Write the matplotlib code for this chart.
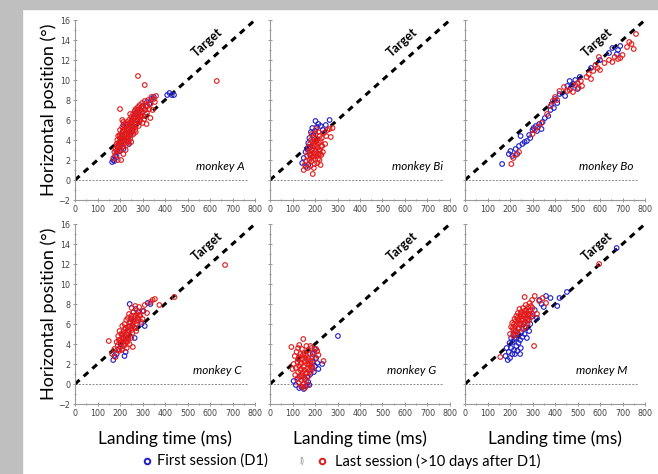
import matplotlib
matplotlib.use("Agg")
import matplotlib.pyplot as plt
from matplotlib.ticker import MultipleLocator
from matplotlib.patches import Rectangle

# monkey A
a_red_x = [170, 175, 180, 182, 185, 188, 190, 192, 195, 197, 200, 200, 202, 205, 207, 210, 210, 212, 215, 215,
           218, 220, 220, 222, 225, 225, 228, 230, 230, 232, 235, 235, 238, 240, 240, 242, 245, 245, 248, 250,
           250, 252, 255, 255, 258, 260, 260, 262, 265, 265, 268, 270, 270, 272, 275, 278, 280, 280, 283, 285,
           288, 290, 292, 295, 298, 300, 305, 308, 310, 315, 320, 325, 330, 335, 340, 345, 350, 355, 360, 318,
           335, 200, 210, 215, 280, 310, 630, 190, 205, 225, 250, 245, 270, 300,
           205, 212, 218, 222, 228, 233, 237, 243, 247, 252, 257, 263, 267, 273, 277, 282, 287, 293, 297, 303,
           313, 323, 183, 187, 193, 198, 203, 208]
a_red_y = [2.2, 2.8, 3.1, 2.5, 3.6, 4.0, 3.2, 4.4, 2.9, 3.8, 4.2, 5.0, 3.5, 4.6, 3.9, 4.1, 5.3, 3.3, 4.8, 2.6,
           4.3, 5.1, 3.7, 4.5, 3.9, 5.6, 4.2, 4.9, 3.5, 5.8, 4.4, 5.2, 3.8, 4.7, 6.0, 5.3, 4.1, 5.7, 4.9, 5.4,
           6.3, 4.5, 5.9, 5.0, 6.6, 5.2, 4.6, 6.1, 5.6, 6.9, 5.0, 6.3, 7.1, 5.5, 6.6, 5.9, 7.3, 6.2, 5.4, 6.8,
           7.5, 6.0, 7.0, 6.5, 7.7, 6.8, 7.2, 6.1, 7.9, 7.4, 6.7, 8.0, 7.1, 7.6, 8.3, 7.0, 8.1, 7.8, 8.4, 5.6,
           6.2, 7.1, 6.0, 5.8, 10.4, 9.5, 9.9, 2.0, 2.0, 3.0, 3.8, 6.6, 4.8, 5.7,
           3.0, 4.9, 3.6, 5.4, 4.6, 3.9, 5.0, 4.4, 5.4, 6.0, 4.9, 5.3, 6.4, 6.0, 7.0, 6.5, 5.8, 6.3, 7.3, 6.4,
           7.0, 7.4, 2.9, 3.4, 3.7, 4.5, 4.0, 4.5]
a_blue_x = [165, 170, 175, 178, 185, 190, 195, 200, 205, 210, 215, 220, 225, 230, 235, 240, 245, 250, 255, 260,
            265, 270, 275, 280, 290, 300, 310, 320, 330, 340, 350, 410, 420, 440, 430, 215, 240]
a_blue_y = [1.8, 2.0, 1.9, 2.4, 2.3, 2.8, 3.4, 2.9, 3.7, 4.4, 3.1, 4.0, 4.7, 5.5, 4.2, 5.0, 4.6, 5.8, 5.3, 6.2,
            5.7, 6.7, 6.0, 7.0, 6.4, 7.4, 7.0, 7.8, 7.6, 8.1, 8.3, 8.5, 8.7, 8.5, 8.5, 5.5, 3.6]

# monkey Bi
bi_red_x = [150, 155, 160, 165, 168, 170, 172, 175, 178, 180, 180, 182, 185, 185, 188, 190, 190, 192, 195, 195,
            198, 200, 200, 202, 205, 205, 208, 210, 210, 212, 215, 215, 218, 220, 220, 222, 225, 225, 228, 230,
            232, 235, 240, 245, 250, 255, 265, 278, 270, 195, 185, 205,
            188, 193, 197, 203, 207, 213, 217, 223, 227, 183, 178]
bi_red_y = [1.0, 1.5, 1.9, 2.4, 1.2, 2.8, 3.3, 2.0, 3.6, 1.4, 2.6, 4.0, 3.0, 1.9, 2.3, 3.8, 0.6, 4.3, 2.7, 3.4,
            1.6, 2.1, 3.9, 4.6, 2.9, 3.5, 2.4, 4.1, 1.7, 3.2, 2.6, 4.8, 3.7, 2.0, 4.4, 3.0, 1.5, 3.9, 2.5, 4.2,
            3.4, 2.8, 4.7, 3.6, 4.4, 5.0, 5.1, 5.2, 4.3, 1.2, 4.6, 5.1,
            3.1, 2.4, 3.7, 2.6, 3.9, 2.1, 3.0, 2.6, 3.4, 2.2, 2.9]
bi_blue_x = [143, 150, 158, 165, 170, 175, 178, 182, 188, 192, 202, 208, 215, 225, 235, 248, 265, 170, 160, 180, 200]
bi_blue_y = [1.7, 2.2, 2.8, 3.1, 3.7, 4.2, 2.5, 4.8, 5.2, 4.5, 5.9, 5.3, 5.6, 5.4, 5.0, 5.5, 6.0, 1.5, 1.3, 3.3, 4.9]

# monkey Bo
bo_red_x = [206, 215, 225, 240, 300, 310, 325, 340, 365, 380, 390, 400, 410, 420, 440, 455, 465, 480, 490, 500,
            505, 515, 520, 540, 550, 560, 570, 580, 590, 600, 620, 640, 655, 665, 680, 700, 720, 730, 740, 750,
            760, 595, 690]
bo_red_y = [1.6, 2.2, 2.5, 2.8, 4.6, 5.0, 5.3, 5.7, 6.6, 7.4, 7.9, 8.3, 8.0, 8.9, 9.3, 8.9, 9.0, 8.8, 9.5, 9.7,
            9.2, 9.9, 9.4, 10.3, 10.6, 10.1, 10.9, 11.5, 11.2, 11.0, 11.7, 12.0, 11.8, 12.3, 12.1, 12.5, 13.3, 13.8,
            13.6, 13.1, 14.6, 12.3, 12.2]
bo_blue_x = [165, 195, 202, 210, 225, 232, 240, 247, 255, 265, 275, 285, 290, 300, 305, 315, 320, 330, 340, 345,
             355, 370, 380, 385, 395, 400, 410, 420, 445, 455, 465, 470, 480, 490, 500, 510, 560, 600, 640, 655,
             680, 690, 675]
bo_blue_y = [1.6, 2.6, 2.9, 2.4, 3.1, 2.6, 3.4, 4.4, 3.6, 3.8, 3.9, 4.5, 4.2, 5.0, 5.2, 5.4, 4.9, 5.6, 5.1, 5.8,
             6.2, 6.4, 7.0, 7.6, 7.2, 8.1, 7.7, 8.6, 8.4, 9.4, 9.9, 9.2, 9.6, 10.0, 9.1, 10.3, 11.2, 12.0, 12.7,
             13.2, 13.0, 13.4, 12.6]

# monkey C
c_red_x = [165, 175, 180, 185, 190, 192, 195, 198, 200, 202, 205, 208, 210, 210, 212, 215, 218, 220, 220, 222,
           225, 225, 228, 230, 230, 232, 235, 235, 238, 240, 240, 242, 245, 248, 250, 250, 252, 255, 258, 260,
           262, 265, 268, 270, 272, 275, 280, 285, 290, 295, 300, 310, 320, 335, 345, 355, 375, 442, 667, 257,
           150, 285, 300,
           205, 213, 217, 223, 227, 233, 237, 243, 247, 253, 257, 263, 267, 273, 278, 283, 195, 188, 208]
c_red_y = [3.0, 3.5, 2.7, 4.2, 3.9, 4.8, 3.3, 5.3, 4.4, 3.7, 5.0, 4.1, 5.8, 4.6, 3.5, 5.2, 4.3, 6.0, 4.9, 3.9,
           5.5, 4.5, 6.4, 5.0, 3.6, 4.2, 5.7, 6.6, 4.7, 5.3, 7.0, 4.0, 6.1, 5.6, 4.6, 6.8, 7.6, 5.1, 6.3, 7.2,
           5.7, 6.5, 7.8, 6.0, 5.3, 7.0, 6.4, 7.7, 6.8, 6.2, 7.3, 7.9, 7.1, 8.2, 8.4, 8.5, 7.9, 8.7, 11.9, 3.7,
           4.3, 6.9, 6.5,
           4.5, 5.0, 4.0, 5.6, 4.2, 5.2, 4.5, 5.8, 6.5, 5.4, 6.0, 6.8, 5.6, 6.3, 6.6, 7.2, 4.4, 3.4, 3.4]
c_blue_x = [170, 175, 185, 195, 205, 215, 225, 235, 243, 245, 250, 255, 260, 265, 270, 280, 295, 305, 310, 323,
            335, 220]
c_blue_y = [2.4, 2.8, 3.0, 3.5, 4.0, 4.6, 3.2, 5.4, 8.0, 6.2, 6.5, 5.8, 7.2, 4.6, 7.5, 7.2, 6.0, 7.3, 5.8, 8.1,
            8.0, 2.8]

# monkey G
g_red_x = [95, 100, 105, 110, 112, 115, 118, 120, 122, 125, 125, 128, 130, 130, 132, 135, 135, 138, 140, 140,
           142, 145, 145, 148, 150, 150, 152, 155, 155, 158, 160, 160, 162, 165, 165, 168, 170, 170, 172, 175,
           178, 180, 180, 185, 188, 190, 195, 200, 205, 210, 215, 238, 130, 180, 145,
           135, 140, 143, 147, 152, 157, 163, 167, 173, 177, 183, 187, 153, 137, 127]
g_red_y = [3.7, 1.5, 2.0, 2.8, 0.9, 1.6, 3.2, 0.5, 2.2, 1.2, 3.6, 0.1, 1.8, 2.7, 0.7, 1.4, 3.0, -0.2, 2.1, 0.4,
           3.5, 1.1, 2.5, 4.5, 0.0, 1.7, 3.1, -0.4, 2.3, 1.0, 2.9, 0.3, 3.8, 1.5, 2.0, -0.1, 2.6, 3.4, 0.8, 1.9,
           3.0, 2.3, 1.2, 3.6, 2.7, 1.5, 3.2, 2.5, 3.5, 3.3, 2.9, 2.3, 3.9, 3.8, -0.3,
           2.0, 1.5, 0.8, 2.9, 1.4, 2.6, 1.1, 2.4, 2.0, 1.4, 2.0, 1.8, 0.5, 0.9, 2.5]
g_blue_x = [105, 115, 125, 130, 140, 150, 155, 160, 165, 170, 175, 180, 185, 190, 195, 200, 205, 210, 215, 232,
            302, 190, 200]
g_blue_y = [0.3, -0.1, 0.6, -0.4, -0.3, -0.5, 0.5, -0.2, 0.7, 0.2, -0.1, 1.0, 1.6, 2.2, 1.2, 1.8, 2.6, 2.1, 1.5, 2.0,
            4.8, 3.0, 3.5]

# monkey M
m_red_x = [157, 200, 205, 210, 215, 220, 222, 225, 228, 230, 232, 235, 238, 240, 242, 245, 248, 250, 252, 255,
           258, 260, 262, 265, 268, 270, 272, 275, 278, 280, 282, 285, 288, 290, 295, 298, 300, 310, 320, 330,
           345, 360, 307, 596, 215, 265, 300,
           218, 226, 233, 236, 243, 247, 253, 256, 263, 267, 273, 276, 283, 287, 293, 213, 224]
m_red_y = [2.7, 5.0, 5.7, 6.1, 5.4, 6.5, 5.8, 4.9, 6.8, 6.0, 5.2, 7.1, 6.4, 5.6, 7.5, 6.7, 5.9, 7.2, 6.3, 5.5,
           7.6, 6.8, 6.1, 7.3, 5.7, 7.9, 6.6, 7.1, 6.0, 7.7, 6.9, 6.4, 8.1, 7.4, 6.7, 8.4, 7.6, 8.8, 7.0, 8.3,
           8.6, 8.1, 3.8, 12.0, 4.8, 8.7, 7.0,
           6.0, 6.3, 6.6, 5.5, 6.1, 7.0, 6.9, 6.5, 7.0, 6.2, 7.4, 6.4, 7.3, 7.0, 7.8, 5.6, 5.3]
m_blue_x = [180, 185, 190, 195, 198, 200, 205, 205, 210, 212, 215, 218, 220, 222, 225, 228, 230, 232, 235, 238,
            240, 245, 248, 250, 255, 260, 265, 270, 275, 280, 290, 300, 310, 320, 330, 340, 350, 360, 380, 410,
            420, 453, 674, 285, 245]
m_blue_y = [2.8, 3.6, 2.4, 3.2, 4.1, 2.6, 3.6, 4.6, 3.0, 4.2, 5.0, 3.4, 4.5, 3.0, 5.3, 3.8, 4.6, 3.3, 5.0, 4.1,
            5.6, 4.4, 3.6, 5.2, 4.7, 6.0, 5.0, 5.6, 4.6, 6.5, 6.0, 6.8, 7.4, 6.6, 8.4, 8.0, 7.7, 8.8, 8.6, 7.8,
            8.6, 9.2, 13.6, 5.3, 3.0]

panels = [
    ("monkey A", a_blue_x, a_blue_y, a_red_x, a_red_y),
    ("monkey Bi", bi_blue_x, bi_blue_y, bi_red_x, bi_red_y),
    ("monkey Bo", bo_blue_x, bo_blue_y, bo_red_x, bo_red_y),
    ("monkey C", c_blue_x, c_blue_y, c_red_x, c_red_y),
    ("monkey G", g_blue_x, g_blue_y, g_red_x, g_red_y),
    ("monkey M", m_blue_x, m_blue_y, m_red_x, m_red_y),
]
name_x = [645, 658, 627, 631, 630, 609]

blue = "#1f1fc8"
red = "#e31a1a"
W, H = 658, 474

fig = plt.figure(figsize=(6.58, 4.74), dpi=100)
fig.patches.append(Rectangle((0, 0), 22 / W, 1, transform=fig.transFigure, color="#bfbfbf", zorder=0))
fig.patches.append(Rectangle((0, 1 - 9 / H), 1, 9 / H, transform=fig.transFigure, color="#bfbfbf", zorder=0))

lefts = [75, 270, 465]
bottoms = [200, 404]
for i, (name, bx, by, rx, ry) in enumerate(panels):
    row, col = divmod(i, 3)
    ax = fig.add_axes([lefts[col] / W, 1 - bottoms[row] / H, 180 / W, 180 / H])
    ax.plot([0, 770], [0, 0], color="#8a8a8a", lw=0.7, ls=(0, (2, 1.5)), zorder=1)
    ax.plot([0, 800], [0, 16], color="black", lw=2.2, ls=(0, (2.0, 1.8)), zorder=2)
    ax.scatter(bx, by, s=11, facecolors="none", edgecolors=blue, linewidths=0.8, zorder=3)
    ax.scatter(rx, ry, s=11, facecolors="none", edgecolors=red, linewidths=0.8, zorder=4)
    ax.text(588, 13.8, "Target", rotation=42, fontweight="bold", fontsize=9,
            ha="center", va="center", family="Lato")
    ax.text(name_x[i], 1.3, name, style="italic", fontsize=8.5, ha="center", va="center", family="Lato")
    ax.set_xlim(0, 800)
    ax.set_ylim(-2, 16)
    ax.xaxis.set_major_locator(MultipleLocator(100))
    ax.xaxis.set_minor_locator(MultipleLocator(50))
    ax.yaxis.set_major_locator(MultipleLocator(2))
    ax.yaxis.set_minor_locator(MultipleLocator(1))
    ax.tick_params(which="both", direction="inout", colors="#888888", labelcolor="#444444",
                   labelsize=5.8, width=0.6, pad=2)
    ax.tick_params(which="major", length=3)
    ax.tick_params(which="minor", length=2)
    for s in ["top", "right"]:
        ax.spines[s].set_visible(False)
    for s in ["left", "bottom"]:
        ax.spines[s].set_color("#999999")
        ax.spines[s].set_linewidth(0.8)
    if col > 0:
        ax.tick_params(labelleft=False)
    else:
        ax.set_ylabel("Horizontal position (°)", fontsize=13, family="Lato", labelpad=1)
    if row == 1:
        ax.set_xlabel("Landing time (ms)", fontsize=12.5, family="Lato", labelpad=9)

# legend
fig.lines.append(plt.Line2D([147 / W], [1 - 461 / H], transform=fig.transFigure, marker="o", ms=4,
                            mfc="none", mec=blue, mew=1.4, ls="none"))
fig.text(157 / W, 1 - 461 / H, "First session (D1)", fontsize=10.5, family="Lato", va="center")
fig.text(299 / W, 1 - 461 / H, "l)", fontsize=7, color="#999999", family="Lato", va="center")
fig.lines.append(plt.Line2D([322 / W], [1 - 461 / H], transform=fig.transFigure, marker="o", ms=4,
                            mfc="none", mec=red, mew=1.4, ls="none"))
fig.text(335 / W, 1 - 461 / H, "Last session (>10 days after D1)", fontsize=10.5, family="Lato", va="center")

fig.savefig("out.png", dpi=100)
